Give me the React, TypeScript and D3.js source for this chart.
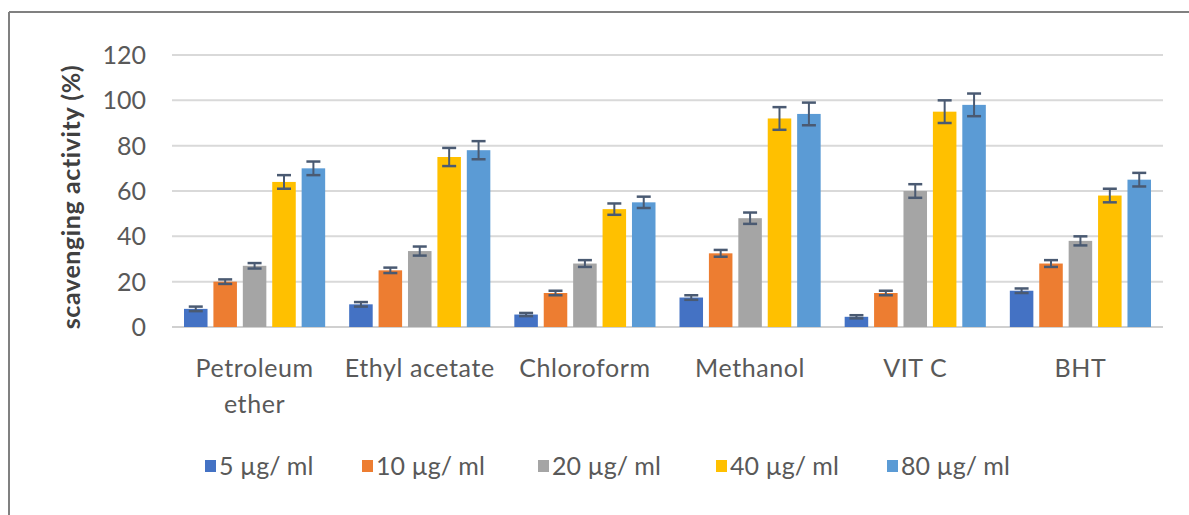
import React from "react";
import * as d3 from "d3";

const categories = ["Petroleum ether", "Ethyl acetate", "Chloroform", "Methanol", "VIT C", "BHT"];
const seriesNames = ["5 µg/ ml", "10 µg/ ml", "20 µg/ ml", "40 µg/ ml", "80 µg/ ml"];
const seriesColors = ["#4472C4", "#ED7D31", "#A5A5A5", "#FFC000", "#5B9BD5"];
// values[series][category]
const s5 = [8, 10, 5.5, 13, 4.5, 16];
const s10 = [20, 25, 15, 32.5, 15, 28];
const s20 = [27, 33.5, 28, 48, 60, 38];
const s40 = [64, 75, 52, 92, 95, 58];
const s80 = [70, 78, 55, 94, 98, 65];
const e5 = [1, 1, 0.7, 1, 0.7, 1];
const e10 = [1, 1.2, 1, 1.5, 1, 1.5];
const e20 = [1.2, 2, 1.5, 2.5, 3, 2];
const e40 = [3, 4, 2.5, 5, 5, 3];
const e80 = [3, 4, 2.5, 5, 5, 3];
const values = [s5, s10, s20, s40, s80];
const errors = [e5, e10, e20, e40, e80];
const yTicks = [0, 20, 40, 60, 80, 100, 120];

const W = 1189, H = 515;
const plotLeft = 172, plotRight = 1163, plotTop = 55, plotBottom = 327;
const font = "Lato, 'Open Sans', sans-serif";

export default function App() {
  const x0 = d3.scaleBand<string>().domain(categories).range([plotLeft, plotRight]);
  const x1 = d3.scaleBand<string>().domain(seriesNames).range([12, x0.bandwidth() - 12]).paddingInner(0.2);
  const y = d3.scaleLinear().domain([0, 120]).range([plotBottom, plotTop]);
  const legendX = [205, 362, 538, 716, 887];

  return (
    <svg width={W} height={H} style={{ position: "absolute", left: 0, top: 0, background: "#fff" }} fontFamily={font}>
      <rect x={0} y={0} width={W} height={H} fill="#fff" />
      {/* border */}
      <line x1={9} y1={12} x2={W} y2={12} stroke="#808080" strokeWidth={2} />
      <line x1={9} y1={12} x2={9} y2={H} stroke="#808080" strokeWidth={2} />
      {/* gridlines */}
      {yTicks.map((t) => (
        <g key={t}>
          <line x1={plotLeft} x2={plotRight} y1={y(t)} y2={y(t)} stroke={t === 0 ? "#d0d0d0" : "#d9d9d9"} strokeWidth={2} />
          <text x={146} y={y(t)} dy="0.36em" textAnchor="end" fontSize={25} fill="#595959">{t}</text>
        </g>
      ))}
      {/* bars */}
      {categories.map((c, ci) => (
        <g key={c} transform={`translate(${x0(c)},0)`}>
          {seriesNames.map((s, si) => {
            const v = values[si][ci];
            const e = errors[si][ci];
            const bx = x1(s)!;
            const bw = x1.bandwidth();
            const cx = bx + bw / 2;
            return (
              <g key={s}>
                <rect x={bx} y={y(v)} width={bw} height={y(0) - y(v)} fill={seriesColors[si]} />
                <line x1={cx} x2={cx} y1={y(v + e)} y2={y(v - e)} stroke="#4a5a72" strokeWidth={2} />
                <line x1={cx - 7} x2={cx + 7} y1={y(v + e)} y2={y(v + e)} stroke="#4a5a72" strokeWidth={2.5} />
                <line x1={cx - 7} x2={cx + 7} y1={y(v - e)} y2={y(v - e)} stroke="#4a5a72" strokeWidth={2.5} />
              </g>
            );
          })}
        </g>
      ))}
      {/* category labels */}
      {categories.map((c) => {
        const cx = x0(c)! + x0.bandwidth() / 2;
        const lines = c === "Petroleum ether" ? ["Petroleum", "ether"] : [c];
        return (
          <text key={c} x={cx} y={368} textAnchor="middle" fontSize={25} fill="#595959" letterSpacing={0.6}>
            {lines.map((l, i) => (
              <tspan key={i} x={cx} y={368 + i * 36} dy="0.36em">{l}</tspan>
            ))}
          </text>
        );
      })}
      {/* y title */}
      <text transform={`translate(80,197) rotate(-90)`} textAnchor="middle" fontSize={25} fontWeight="bold" fill="#404040" letterSpacing={0.6}>
        scavenging activity (%)
      </text>
      {/* legend */}
      {seriesNames.map((s, i) => (
        <g key={s} transform={`translate(${legendX[i]},466)`}>
          <rect x={0} y={-6} width={11} height={12} fill={seriesColors[i]} />
          <text x={14} y={0} dy="0.36em" fontSize={25} fill="#595959">{s}</text>
        </g>
      ))}
    </svg>
  );
}
